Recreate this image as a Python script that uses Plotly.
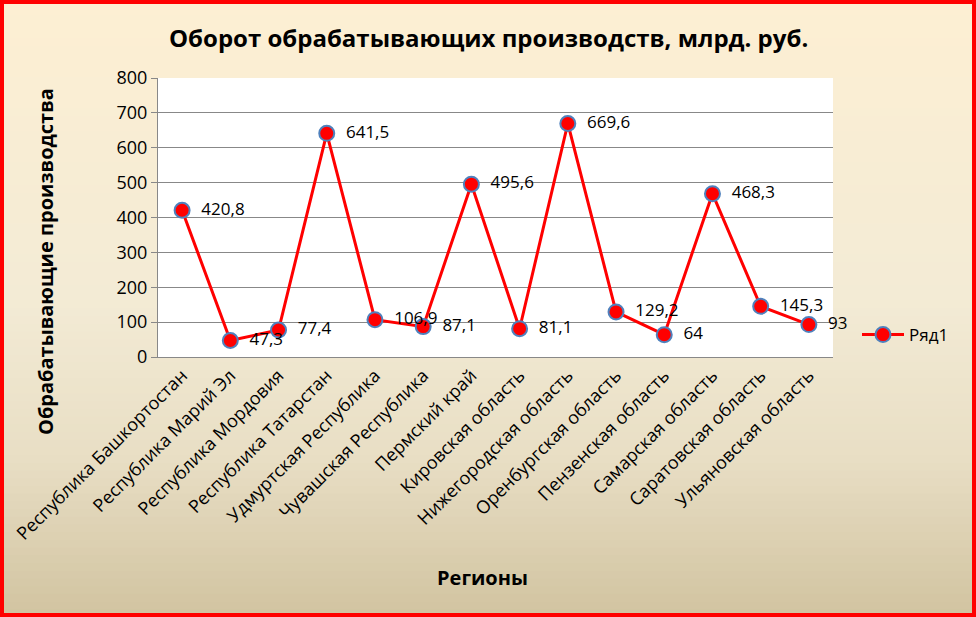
import plotly.graph_objects as go

regions = [
    "Республика Башкортостан", "Республика Марий Эл", "Республика Мордовия",
    "Республика Татарстан", "Удмуртская Республика", "Чувашская Республика",
    "Пермский край", "Кировская область", "Нижегородская область",
    "Оренбургская область", "Пензенская область", "Самарская область",
    "Саратовская область", "Ульяновская область",
]
values = [420.8, 47.3, 77.4, 641.5, 106.9, 87.1, 495.6, 81.1, 669.6, 129.2, 64, 468.3, 145.3, 93]
labels = [f"{v:g}".replace(".", ",") for v in values]
y_ticks = [0, 100, 200, 300, 400, 500, 600, 700, 800]

W, H = 976, 617
L, R, T, B = 158, 143, 78, 260
pw, ph = W - L - R, H - T - B

def px_x(x):
    return (x - L) / pw

def px_y(y):
    return (H - B - y) / ph

# background gradient stops (pixel y, rgb)
stops = [(0, (253, 239, 211)), (300, (243, 235, 213)), (460, (232, 222, 196)), (617, (209, 195, 160))]

def col_at(y):
    for (y0, c0), (y1, c1) in zip(stops[:-1], stops[1:]):
        if y0 <= y <= y1:
            t = (y - y0) / (y1 - y0)
            return "rgb(%d,%d,%d)" % tuple(round(a + (b - a) * t) for a, b in zip(c0, c1))
    return "rgb(%d,%d,%d)" % stops[-1][1]

shapes = []
n = 80
for i in range(n):
    y0 = H * i / n
    y1 = H * (i + 1) / n + 1
    shapes.append(dict(type="rect", xref="paper", yref="paper", layer="below",
                       x0=px_x(0), x1=px_x(W), y0=px_y(y1), y1=px_y(y0),
                       line=dict(width=0), fillcolor=col_at((y0 + y1) / 2)))
# plot area white
shapes.append(dict(type="rect", xref="paper", yref="paper", layer="below",
                   x0=0, x1=1, y0=0, y1=1, line=dict(width=0), fillcolor="white"))
# red border
shapes.append(dict(type="rect", xref="paper", yref="paper", layer="above",
                   x0=px_x(2), x1=px_x(W - 2), y0=px_y(H - 2), y1=px_y(2),
                   line=dict(color="#FF0000", width=4), fillcolor="rgba(0,0,0,0)"))

fig = go.Figure()
fig.add_trace(go.Scatter(
    x=regions, y=values, mode="lines+markers+text", name="Ряд1",
    text=labels, texttemplate="\u00a0\u00a0%{text}", textposition="middle right",
    textfont=dict(family="Open Sans", size=17, color="black"),
    line=dict(color="#FF0000", width=3),
    marker=dict(size=15, color="#FF0000", line=dict(color="#4F81BD", width=2)),
    cliponaxis=False,
))

fig.update_layout(
    width=W, height=H,
    margin=dict(l=L, r=R, t=T, b=B),
    paper_bgcolor="rgba(0,0,0,0)", plot_bgcolor="rgba(0,0,0,0)",
    shapes=shapes,
    showlegend=True,
    legend=dict(x=px_x(857), y=px_y(335), xanchor="left", yanchor="middle",
                itemwidth=42,
                font=dict(family="Open Sans", size=17, color="black"),
                bgcolor="rgba(0,0,0,0)"),
    annotations=[
        dict(text="<b>Оборот обрабатывающих производств, млрд. руб.</b>",
             xref="paper", yref="paper", x=px_x(488), y=px_y(37),
             xanchor="center", yanchor="middle",
             showarrow=False, font=dict(family="Open Sans", size=24, color="black")),
        dict(text="<b>Обрабатывающие производства</b>", textangle=-90,
             xref="paper", yref="paper", x=px_x(45), y=px_y(262),
             xanchor="center", yanchor="middle",
             showarrow=False, font=dict(family="Open Sans", size=20, color="black")),
        dict(text="<b>Регионы</b>",
             xref="paper", yref="paper", x=px_x(482), y=px_y(577),
             xanchor="center", yanchor="middle",
             showarrow=False, font=dict(family="Open Sans", size=20, color="black")),
    ],
)
fig.update_xaxes(
    tickangle=-45, tickfont=dict(family="Open Sans", size=18, color="black"),
    showgrid=False, showline=True, linecolor="#888888", linewidth=1,
    ticks="", range=[-0.5, len(regions) - 0.5],
)
fig.update_yaxes(
    range=[0, 800], tickvals=y_ticks, ticktext=[str(v) for v in y_ticks],
    tickfont=dict(family="Open Sans", size=18, color="black"),
    showgrid=True, gridcolor="#888888", gridwidth=1,
    showline=True, linecolor="#888888", linewidth=1,
    ticks="outside", ticklen=6, tickcolor="#888888", zeroline=False,
)
fig.write_html("out.html", config={"displayModeBar": False},
               post_script="document.body.style.margin='0';document.body.style.overflow='hidden';")
